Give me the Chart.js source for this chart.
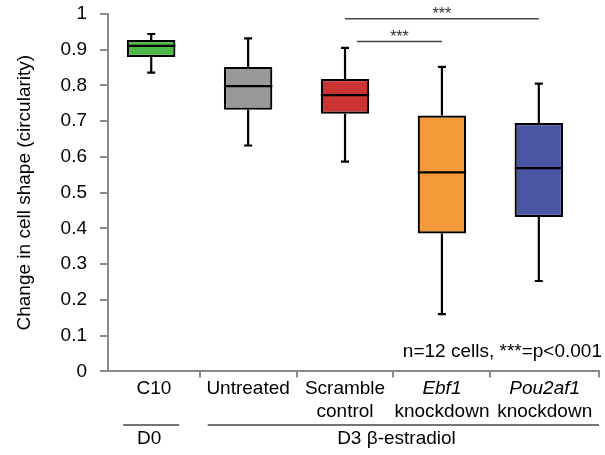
<!DOCTYPE html>
<html><head><meta charset="utf-8">
<script src="https://cdn.jsdelivr.net/npm/chart.js@4/dist/chart.umd.min.js"></script>
<style>html,body{margin:0;padding:0;background:#fff}#wrap{width:605px;height:455px;position:relative}</style>
</head><body><div id="wrap"><canvas id="c"></canvas></div>
<script>
// ---- data ----
const categories = ["C10", "Untreated", "Scramble", "Ebf1", "Pou2af1"];
const secondLine = ["", "", "control", "knockdown", "knockdown"];
const italicCategories = ["Ebf1", "Pou2af1"];
const whiskerLow  = [0.836, 0.632, 0.587, 0.160, 0.253];
const q1          = [0.880, 0.732, 0.721, 0.386, 0.432];
const median      = [0.911, 0.798, 0.773, 0.557, 0.569];
const q3          = [0.927, 0.852, 0.818, 0.716, 0.695];
const whiskerHigh = [0.944, 0.932, 0.905, 0.852, 0.805];
const boxColors = ["#4db848", "#999999", "#cc3333", "#f59a3a", "#4a55a3"];
const yTicks = [0, 0.1, 0.2, 0.3, 0.4, 0.5, 0.6, 0.7, 0.8, 0.9, 1];
const groupLabels = ["D0", "D3 \u03b2-estradiol"];
const groupFrom = [0, 1];
const groupTo = [0, 4];
const sigFrom = [2, 2];
const sigTo = [4, 3];
const sigLevel = [0.987, 0.923];
const sigText = ["***", "***"];
const note = "n=12 cells, ***=p<0.001";
const yTitle = "Change in cell shape (circularity)";

const FONT = "'Liberation Sans', Arial, Helvetica, sans-serif";
const AXIS = "#8a8a8a";
const TEXT = "#000";
const X_MIN = -0.446, X_MAX = 4.621;   // axis range in category-index units

const idx = categories.map((c, i) => i);
const boundaries = idx.slice(1).map(i => i - 0.5).concat([X_MAX]);
const cellEdges = [X_MIN].concat(boundaries);
const labelPos = idx.map(i => (cellEdges[i] + cellEdges[i + 1]) / 2);

const boxPlugin = {
  id: 'boxExtras',
  afterDatasetsDraw(chart) {
    const ctx = chart.ctx, y = chart.scales.y;
    const meta = chart.getDatasetMeta(0);
    ctx.save();
    ctx.strokeStyle = "#000";
    ctx.lineWidth = 2.2;
    ctx.lineCap = 'butt';
    meta.data.forEach((bar, i) => {
      const {x, width} = bar.getProps(['x', 'width'], true);
      const yl = y.getPixelForValue(whiskerLow[i]);
      const yh = y.getPixelForValue(whiskerHigh[i]);
      const yq1 = y.getPixelForValue(q1[i]);
      const yq3 = y.getPixelForValue(q3[i]);
      const ym = y.getPixelForValue(median[i]);
      ctx.beginPath();
      ctx.moveTo(x, yq3); ctx.lineTo(x, yh);
      ctx.moveTo(x - 4, yh); ctx.lineTo(x + 4, yh);
      ctx.moveTo(x, yq1); ctx.lineTo(x, yl);
      ctx.moveTo(x - 4, yl); ctx.lineTo(x + 4, yl);
      ctx.moveTo(x - width / 2, ym); ctx.lineTo(x + width / 2, ym);
      ctx.stroke();
    });
    ctx.restore();
  },
  afterDraw(chart) {
    const ctx = chart.ctx, x = chart.scales.x, y = chart.scales.y, ca = chart.chartArea;
    ctx.save();
    // significance brackets
    ctx.strokeStyle = "#444";
    ctx.fillStyle = "#333";
    ctx.lineWidth = 1.5;
    ctx.font = "16px " + FONT;
    ctx.textAlign = 'center';
    ctx.textBaseline = 'alphabetic';
    sigLevel.forEach((lv, k) => {
      const yy = y.getPixelForValue(lv);
      let x1 = x.getPixelForValue(sigFrom[k]);
      const x2 = x.getPixelForValue(sigTo[k]);
      if (k === 1) x1 += 12;
      ctx.beginPath(); ctx.moveTo(x1, yy); ctx.lineTo(x2, yy); ctx.stroke();
      ctx.fillText(sigText[k], (x1 + x2) / 2, yy + 0.5);
    });
    // note
    ctx.fillStyle = TEXT;
    ctx.font = "19px " + FONT;
    ctx.textAlign = 'right';
    ctx.fillText(note, ca.right + 3, ca.bottom - 14);
    // group labels
    const gLineY = 425, gTextY = 439;
    ctx.strokeStyle = "#444";
    ctx.lineWidth = 1.5;
    ctx.textAlign = 'center';
    ctx.textBaseline = 'middle';
    groupLabels.forEach((lab, k) => {
      let a, b;
      if (groupFrom[k] === groupTo[k]) {
        const c = x.getPixelForValue(groupFrom[k]);
        a = c - 28; b = c + 28;
      } else {
        a = x.getPixelForValue(groupFrom[k] - 0.5) + 8;
        b = ca.right;
      }
      ctx.beginPath(); ctx.moveTo(a, gLineY); ctx.lineTo(b, gLineY); ctx.stroke();
      const cx = (x.getPixelForValue(groupFrom[k]) + x.getPixelForValue(groupTo[k])) / 2 + (k ? 3 : -2);
      ctx.fillText(lab, cx, gTextY);
    });
    ctx.restore();
  }
};

const labelAxis = (labels, weight, italic) => ({
  type: 'linear',
  position: 'bottom',
  min: X_MIN, max: X_MAX,
  offset: false,
  weight: weight,
  afterBuildTicks: (s) => { s.ticks = labelPos.map(v => ({ value: v })); },
  grid: { display: false, drawTicks: false, offset: false },
  border: { display: false },
  ticks: {
    autoSkip: false, maxRotation: 0, padding: 0, color: TEXT,
    callback: (v, i) => labels[i],
    font: (c) => ({ family: FONT, size: 19, style: italic && italicCategories.includes(labels[c.index]) ? 'italic' : 'normal' })
  }
});

new Chart(document.getElementById('c'), {
  type: 'bar',
  data: {
    labels: categories,
    datasets: [{
      data: idx.map(i => ({ x: i, y: [q1[i], q3[i]] })),
      backgroundColor: boxColors,
      borderColor: "#000",
      borderWidth: 2.2,
      borderSkipped: false,
      barPercentage: 1,
      categoryPercentage: 0.5
    }]
  },
  options: {
    responsive: true,
    maintainAspectRatio: false,
    animation: false,
    devicePixelRatio: 1,
    layout: { padding: { left: 0, right: 6, top: 14, bottom: 32 } },
    plugins: { legend: { display: false }, tooltip: { enabled: false } },
    scales: {
      x: {
        type: 'linear',
        position: 'bottom',
        min: X_MIN, max: X_MAX,
        offset: false,
        weight: 0,
        afterBuildTicks: (s) => { s.ticks = boundaries.map(v => ({ value: v })); },
        grid: { display: true, drawOnChartArea: false, drawTicks: true, tickLength: 6, color: AXIS, lineWidth: 2, offset: false },
        border: { display: true, color: AXIS, width: 2 },
        ticks: { display: false }
      },
      xl1: labelAxis(categories, 1, true),
      xl2: labelAxis(secondLine, 2, false),
      y: {
        min: 0, max: 1,
        afterBuildTicks: (s) => { s.ticks = yTicks.map(v => ({ value: v })); },
        afterFit: (s) => { s.width = 108; s.paddingTop = 11; s.paddingBottom = 11; },
        grid: { display: true, drawOnChartArea: false, drawTicks: true, tickLength: 8, color: AXIS, lineWidth: 2 },
        border: { display: true, color: AXIS, width: 2 },
        ticks: {
          padding: 13, color: TEXT, font: { family: FONT, size: 19 },
          callback: (v) => String(Number(v.toFixed(1)))
        },
        title: { display: true, text: yTitle, color: TEXT, font: { family: FONT, size: 19 }, padding: { top: 13, bottom: 0 } }
      }
    }
  },
  plugins: [boxPlugin]
});
</script></body></html>
